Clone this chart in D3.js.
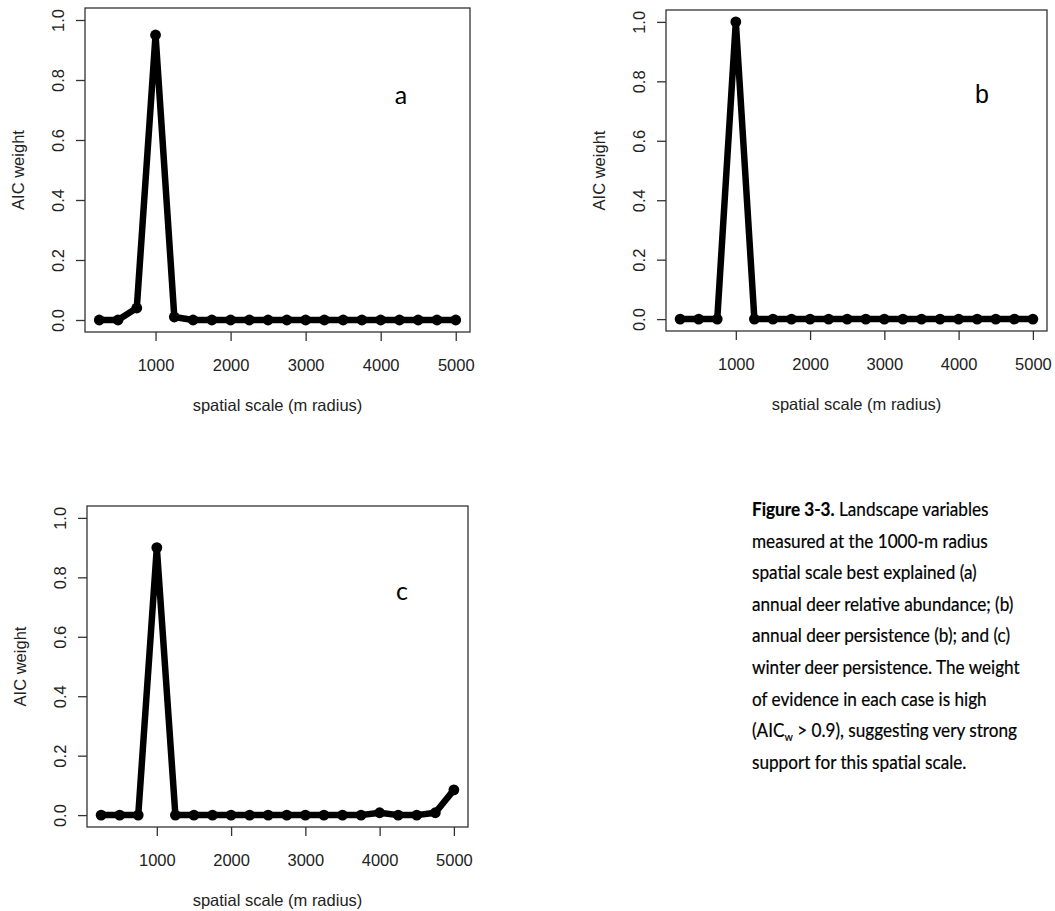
<!DOCTYPE html>
<html>
<head>
<meta charset="utf-8">
<script src="https://cdn.jsdelivr.net/npm/d3@7"></script>
<style>
  html, body { margin: 0; padding: 0; background: #fff; }
  svg { display: block; }
</style>
</head>
<body>
<svg id="fig" width="1055" height="911"></svg>
<script>
// Spatial scales (m radius) at which the landscape variables were measured
const spatialScales = [250, 500, 750, 1000, 1250, 1500, 1750, 2000, 2250, 2500,
                       2750, 3000, 3250, 3500, 3750, 4000, 4250, 4500, 4750, 5000];

// AIC weights per scale for each response
const weightsAbundance  = [0, 0, 0.04, 0.95, 0.01, 0, 0, 0, 0, 0,
                           0, 0, 0, 0, 0, 0, 0, 0, 0, 0];
const weightsAnnual     = [0, 0, 0, 1.0, 0, 0, 0, 0, 0, 0,
                           0, 0, 0, 0, 0, 0, 0, 0, 0, 0];
const weightsWinter     = [0, 0, 0, 0.90, 0, 0, 0, 0, 0, 0,
                           0, 0, 0, 0, 0, 0.008, 0, 0, 0.008, 0.085];

const xTickValues = [1000, 2000, 3000, 4000, 5000];
const yTickValues = [0, 0.2, 0.4, 0.6, 0.8, 1.0];
const yTickLabels = ["0.0", "0.2", "0.4", "0.6", "0.8", "1.0"];

const xTitle = "spatial scale (m radius)";
const yTitle = "AIC weight";

const svg = d3.select("#fig");
svg.append("rect").attr("width", 1055).attr("height", 911).attr("fill", "#fff");

const axisFont = "'Liberation Sans', Arial, Helvetica, sans-serif";
const captionFont = "Lato, 'Open Sans', sans-serif";

// One R-style panel: box, ticks, labels, thick line with filled points
function panel(cfg) {
  const { left, top, width, height, values, letter, letterX, letterY, letterFont } = cfg;
  // 4% padding on both ends of each range, as base graphics does
  const xr = [250, 5000], pad = (xr[1] - xr[0]) * 0.04;
  const x = d3.scaleLinear().domain([xr[0] - pad, xr[1] + pad]).range([0, width]);
  const y = d3.scaleLinear().domain([-0.04, 1.04]).range([height, 0]);

  const g = svg.append("g").attr("transform", `translate(${left},${top})`);

  // x axis
  const gx = g.append("g").attr("transform", `translate(0,${height})`)
    .call(d3.axisBottom(x).tickValues(xTickValues).tickSize(9).tickFormat(d3.format("d")));
  gx.select(".domain").remove();
  gx.selectAll(".tick line").attr("stroke", "#333").attr("stroke-width", 1.3);
  gx.selectAll(".tick text")
    .attr("y", 39).attr("dy", null)
    .attr("fill", "#222")
    .style("font-family", axisFont).style("font-size", "16.5px");

  // y axis with labels turned parallel to the axis
  const gy = g.append("g")
    .call(d3.axisLeft(y).tickValues(yTickValues).tickSize(9)
      .tickFormat((d, i) => yTickLabels[i]));
  gy.select(".domain").remove();
  gy.selectAll(".tick line").attr("stroke", "#333").attr("stroke-width", 1.3);
  gy.selectAll(".tick text")
    .attr("transform", "rotate(-90)")
    .attr("x", 0).attr("y", -21.5).attr("dy", null)
    .attr("text-anchor", "middle")
    .attr("fill", "#222")
    .style("font-family", axisFont).style("font-size", "16.5px");

  // plot box
  g.append("rect")
    .attr("x", 0).attr("y", 0).attr("width", width).attr("height", height)
    .attr("fill", "none").attr("stroke", "#333").attr("stroke-width", 1.3);

  // axis titles
  g.append("text")
    .attr("x", x(2625)).attr("y", height + 79)
    .attr("text-anchor", "middle").attr("fill", "#222")
    .style("font-family", axisFont).style("font-size", "16.5px")
    .text(xTitle);
  g.append("text")
    .attr("transform", `translate(${-61.5},${height / 2}) rotate(-90)`)
    .attr("text-anchor", "middle").attr("fill", "#222")
    .style("font-family", axisFont).style("font-size", "16.5px")
    .text(yTitle);

  // series
  const pts = spatialScales.map((s, i) => [s, values[i]]);
  g.append("path")
    .datum(pts)
    .attr("fill", "none").attr("stroke", "#000")
    .attr("stroke-width", 6.5).attr("stroke-linejoin", "round").attr("stroke-linecap", "round")
    .attr("d", d3.line().x(d => x(d[0])).y(d => y(d[1])));
  g.selectAll("circle.pt")
    .data(pts).join("circle").attr("class", "pt")
    .attr("cx", d => x(d[0])).attr("cy", d => y(d[1]))
    .attr("r", 5.4).attr("fill", "#000");

  // panel letter
  svg.append("text")
    .attr("x", letterX).attr("y", letterY)
    .attr("text-anchor", "middle").attr("fill", "#000")
    .style("font-family", letterFont).style("font-size", "25px")
    .text(letter);
}

panel({ left: 85, top: 8, width: 385, height: 324, values: weightsAbundance,
        letter: "a", letterX: 401, letterY: 104, letterFont: captionFont });
panel({ left: 666, top: 10, width: 381, height: 321, values: weightsAnnual,
        letter: "b", letterX: 982, letterY: 103, letterFont: axisFont });
panel({ left: 87, top: 506, width: 381, height: 321, values: weightsWinter,
        letter: "c", letterX: 402, letterY: 600, letterFont: captionFont });

// Figure caption
const captionLines = [
  [["Figure 3-3.", "bold"], [" Landscape variables", "normal"]],
  [["measured at the 1000-m radius", "normal"]],
  [["spatial scale best explained (a)", "normal"]],
  [["annual deer relative abundance; (b)", "normal"]],
  [["annual deer persistence (b); and (c)", "normal"]],
  [["winter deer persistence. The weight", "normal"]],
  [["of evidence in each case is high", "normal"]],
  [["(AIC", "normal"], ["w", "sub"], [" > 0.9), suggesting very strong", "rise"]],
  [["support for this spatial scale.", "normal"]]
];

const capX = 752, capY0 = 516, capStep = 31.6, capSize = 18.5;
const capWidest = 268; // width of the longest caption line
const cap = svg.append("g").style("font-family", captionFont)
  .attr("fill", "#000").attr("stroke", "#000").attr("stroke-width", 0.2);
const capInner = cap.append("g");

captionLines.forEach((parts, i) => {
  const t = capInner.append("text").attr("x", 0).attr("y", capY0 + i * capStep)
    .style("font-size", capSize + "px");
  parts.forEach(([str, kind]) => {
    const sp = t.append("tspan").text(str);
    if (kind === "bold") sp.style("font-weight", "bold");
    if (kind === "sub") sp.style("font-size", (capSize * 0.62) + "px").attr("dy", 4);
    if (kind === "rise") sp.attr("dy", -4);
  });
});
// narrow the caption face to the column width
const widest = d3.max(capInner.selectAll("text").nodes(), n => n.getComputedTextLength());
capInner.attr("transform", `translate(${capX},0) scale(${capWidest / widest},1)`);
</script>
</body>
</html>
